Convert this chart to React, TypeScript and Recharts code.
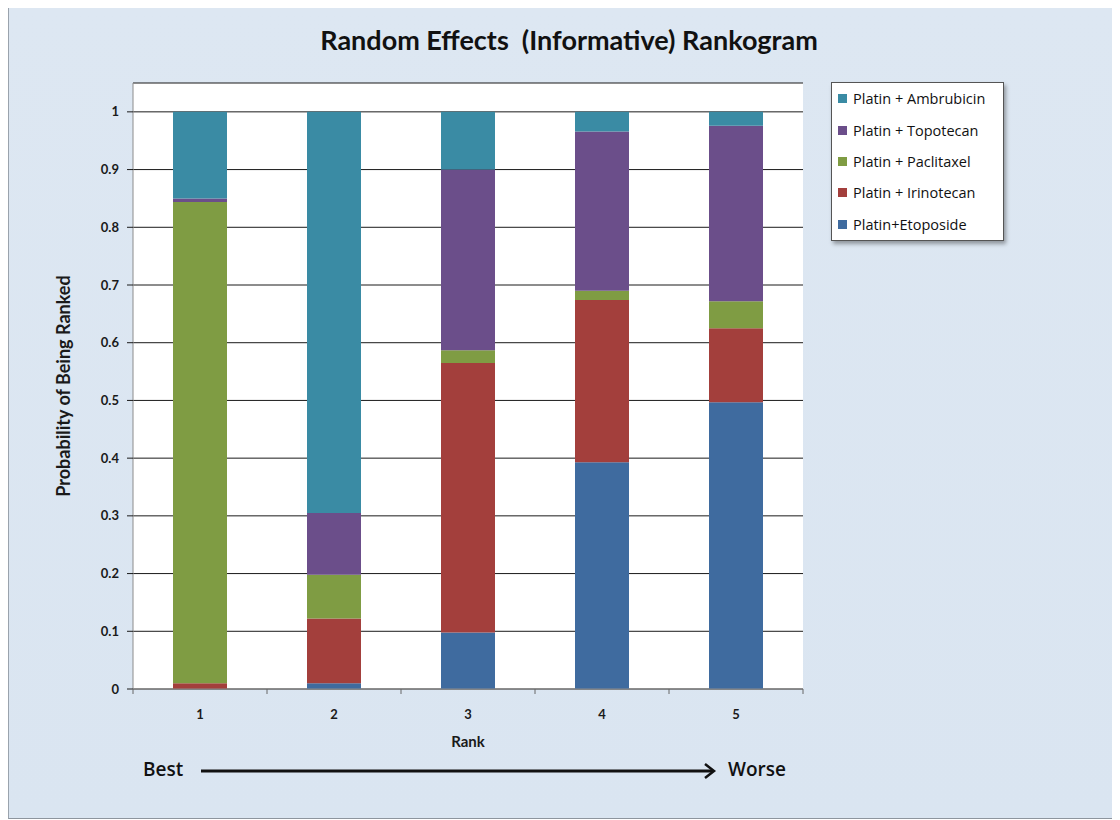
import { BarChart, Bar, XAxis, YAxis, CartesianGrid, Legend } from "recharts";

// rank positions (1 = best)
const ranks = ["1", "2", "3", "4", "5"];

// probability of each treatment landing in each rank
const etoposide = [0.0, 0.01, 0.098, 0.393, 0.497];
const irinotecan = [0.01, 0.112, 0.467, 0.281, 0.128];
const paclitaxel = [0.834, 0.076, 0.022, 0.016, 0.047];
const topotecan = [0.006, 0.107, 0.313, 0.276, 0.304];
const ambrubicin = [0.15, 0.695, 0.1, 0.034, 0.024];

const yTicks = [0, 0.1, 0.2, 0.3, 0.4, 0.5, 0.6, 0.7, 0.8, 0.9, 1];

// stacking order bottom -> top
const SERIES = [
  { key: "etoposide", name: "Platin+Etoposide", color: "#3f6b9f" },
  { key: "irinotecan", name: "Platin + Irinotecan", color: "#a33f3c" },
  { key: "paclitaxel", name: "Platin + Paclitaxel", color: "#7f9c43" },
  { key: "topotecan", name: "Platin + Topotecan", color: "#6b4e8a" },
  { key: "ambrubicin", name: "Platin + Ambrubicin", color: "#3a8ba4" },
];

const data = ranks.map((rank, i) => ({
  rank,
  etoposide: etoposide[i],
  irinotecan: irinotecan[i],
  paclitaxel: paclitaxel[i],
  topotecan: topotecan[i],
  ambrubicin: ambrubicin[i],
}));

const FONT = "Lato, 'Open Sans', sans-serif";
const tickStyle = { fontFamily: FONT, fontSize: 13, fontWeight: 700, fill: "#1a1a1a" };

// category label plus small tick marks on the category boundaries
function RankTick(props: any) {
  const { x, y, payload, index, visibleTicksCount } = props;
  const half = payload && typeof payload.offset === "number" ? payload.offset : 0;
  const axisY = y - 21;
  return (
    <g>
      {half > 0 && <line x1={x - half} x2={x - half} y1={axisY} y2={axisY + 5} stroke="#666" />}
      {half > 0 && index === visibleTicksCount - 1 && (
        <line x1={x + half} x2={x + half} y1={axisY} y2={axisY + 5} stroke="#666" />
      )}
      <text x={x} y={y} dy="0.71em" textAnchor="middle" style={tickStyle}>
        {payload.value}
      </text>
    </g>
  );
}

function LegendBox() {
  return (
    <div
      style={{
        width: 173,
        height: 159,
        background: "#fff",
        border: "1px solid #555",
        boxShadow: "2px 3px 4px rgba(0,0,0,0.35)",
        fontFamily: "'Open Sans', sans-serif",
        fontSize: 14.5,
        color: "#111",
        boxSizing: "border-box",
        paddingTop: 0,
      }}
    >
      {[...SERIES].reverse().map((s) => (
        <div key={s.key} style={{ display: "flex", alignItems: "center", height: 31.4, paddingLeft: 6 }}>
          <span style={{ width: 9, height: 9, background: s.color, marginRight: 6, display: "inline-block" }} />
          <span>{s.name}</span>
        </div>
      ))}
    </div>
  );
}

export default function App() {
  return (
    <div
      style={{
        position: "relative",
        width: 1111,
        height: 810,
        marginTop: -1,
        background: "linear-gradient(180deg, #dde7f2 0%, #dae5f1 100%)",
        borderTop: "1px solid #9aa3ad",
        borderLeft: "1px solid #9aa3ad",
        borderBottom: "1px solid #8d959e",
        boxShadow: "-2px 1px 4px rgba(0,0,0,0.25)",
      }}
    >
      <div
        style={{
          position: "absolute",
          top: 15,
          left: 4,
          width: 1112,
          textAlign: "center",
          fontFamily: FONT,
          fontWeight: 700,
          fontSize: 27,
          color: "#111",
          whiteSpace: "pre",
        }}
      >
        {"Random Effects  (Informative) Rankogram"}
      </div>

      <BarChart
        width={1111}
        height={810}
        data={data}
        margin={{ top: 75, right: 317, bottom: 71, left: 16 }}
        style={{ position: "absolute", left: 0, top: 0 }}
      >
        <CartesianGrid vertical={false} stroke="#1a1a1a" fill="#ffffff" />
        <XAxis
          dataKey="rank"
          height={58}
          tickLine={false}
          tickSize={0}
          tickMargin={21}
          axisLine={{ stroke: "#8c8c8c" }}
          tick={<RankTick />}
          label={{
            value: "Rank",
            position: "insideBottom",
            offset: 0,
            style: { fontFamily: FONT, fontSize: 15, fontWeight: 700, fill: "#1a1a1a" },
          }}
        />
        <YAxis
          width={108}
          domain={[0, 1.05]}
          ticks={yTicks}
          allowDataOverflow
          tickSize={6}
          tickMargin={8}
          axisLine={{ stroke: "#8c8c8c" }}
          tickLine={{ stroke: "#1a1a1a" }}
          tick={tickStyle}
          label={{
            value: "Probability of Being Ranked",
            angle: -90,
            position: "center",
            dx: -15,
            style: { fontFamily: FONT, fontSize: 18, fontWeight: 700, fill: "#1a1a1a", textAnchor: "middle" },
          }}
        />
        <Legend
          layout="vertical"
          align="center"
          verticalAlign="middle"
          content={() => <LegendBox />}
          wrapperStyle={{ left: 822, top: 74, width: 173, height: 159 }}
        />
        {SERIES.map((s) => (
          <Bar
            key={s.key}
            dataKey={s.key}
            name={s.name}
            stackId="a"
            fill={s.color}
            barSize={54}
            isAnimationActive={false}
          />
        ))}
      </BarChart>

      <div style={{ position: "absolute", left: 134, top: 748, fontFamily: "'Open Sans', sans-serif", fontWeight: 600, fontSize: 19, color: "#111" }}>
        Best
      </div>
      <div style={{ position: "absolute", left: 719, top: 748, fontFamily: "'Open Sans', sans-serif", fontWeight: 600, fontSize: 19, color: "#111" }}>
        Worse
      </div>
      <svg width={530} height={20} style={{ position: "absolute", left: 190, top: 753 }}>
        <line x1={2} y1={10} x2={514} y2={10} stroke="#111" strokeWidth={3} />
        <polyline points="506,3 515,10 506,17" fill="none" stroke="#111" strokeWidth={2.5} />
      </svg>
    </div>
  );
}
